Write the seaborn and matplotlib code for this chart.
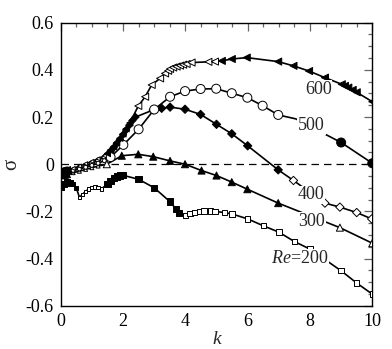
import numpy as np
import pandas as pd
import matplotlib
matplotlib.use("Agg")
import matplotlib.pyplot as plt
from matplotlib.ticker import MultipleLocator, FixedFormatter, FixedLocator
import seaborn as sns

# ---------------- data ----------------
# fill flag: 'f' filled marker, 'o' open marker, 'n' no marker
k_200 = [0.0, 0.1, 0.2, 0.3, 0.4, 0.5,
         0.6, 0.7, 0.8, 0.9, 1.0, 1.1, 1.2, 1.3,
         1.5, 1.6, 1.7, 1.8, 1.9, 2.0, 2.5, 3.0, 3.5, 3.7, 3.8,
         4.0, 4.15, 4.3, 4.45, 4.6, 4.8, 4.95, 5.25, 5.5, 6.0, 6.5, 7.0, 7.5, 8.0, 9.0, 9.5, 10.0]
s_200 = [-0.095, -0.085, -0.078, -0.08, -0.085, -0.1,
         -0.14, -0.128, -0.115, -0.105, -0.098, -0.097, -0.1, -0.105,
         -0.085, -0.07, -0.06, -0.052, -0.048, -0.047, -0.064, -0.1, -0.158, -0.19, -0.207,
         -0.218, -0.21, -0.204, -0.2, -0.199, -0.199, -0.2, -0.205, -0.211, -0.232, -0.261, -0.288,
         -0.328, -0.36, -0.452, -0.504, -0.551]
f_200 = ['f'] * 6 + ['o'] * 8 + ['f'] * 11 + ['o'] * 17

k_300 = [0.0, 0.05, 0.1, 0.15, 0.2, 0.4, 0.6, 0.8, 1.0, 1.2, 1.48, 1.96, 2.49, 2.97, 3.51,
         3.99, 4.52, 5.0, 5.49, 5.99, 6.98, 8.96, 10.0]
s_300 = [-0.045, -0.047, -0.046, -0.044, -0.042, -0.036, -0.03, -0.022, -0.015, -0.008, 0.0,
         0.036, 0.042, 0.032, 0.014, 0.0, -0.027, -0.048, -0.076, -0.106, -0.165, -0.269, -0.335]
f_300 = ['f'] * 5 + ['o'] * 6 + ['f'] * 10 + ['o'] * 2

k_400 = [0.0, 0.05, 0.1, 0.15, 0.2, 0.4, 0.6, 0.8, 1.0, 1.2, 1.4,
         1.5, 1.6, 1.7, 1.8, 1.9, 2.0, 2.1, 2.2, 2.3, 2.4,
         2.97, 3.24, 3.51, 3.99, 4.49, 5.0, 5.49, 6.0, 6.98, 7.47, 8.48, 8.96, 9.5, 9.98]
s_400 = [-0.04, -0.042, -0.04, -0.037, -0.034, -0.027, -0.018, -0.008, 0.004, 0.016, 0.03,
         0.04, 0.055, 0.07, 0.088, 0.105, 0.125, 0.145, 0.165, 0.185, 0.2,
         0.23, 0.237, 0.242, 0.233, 0.211, 0.169, 0.129, 0.078, -0.024, -0.069, -0.165, -0.182,
         -0.205, -0.232]
f_400 = ['f'] * 5 + ['o'] * 6 + ['f'] * 19 + ['o'] * 5

k_500 = [0.0, 0.05, 0.1, 0.15, 0.2, 0.4, 0.6, 0.8, 1.0, 1.2, 1.4, 1.6,
         2.01, 2.5, 3.0, 3.51, 3.99, 4.49, 4.99, 5.49, 5.99, 6.48, 6.98, 7.55, 8.3, 9.0, 10.0]
s_500 = [-0.035, -0.038, -0.036, -0.034, -0.031, -0.026, -0.02, -0.013, -0.005, 0.004, 0.015,
         0.03, 0.082, 0.148, 0.232, 0.286, 0.31, 0.319, 0.32, 0.301, 0.282, 0.248, 0.209, 0.192,
         0.14, 0.092, 0.004]
f_500 = ['f'] * 5 + ['o'] * 8 + ['o'] * 10 + ['n', 'n', 'f', 'f']

k_600 = [0.0, 0.05, 0.1, 0.15, 0.2, 0.4, 0.6, 0.8, 1.0, 1.2, 1.4,
         1.5, 1.6, 1.7, 1.8, 1.9, 2.0, 2.1, 2.22,
         2.49, 2.71, 2.92, 3.19, 3.35, 3.45, 3.51, 3.61, 3.72, 3.83, 3.93, 4.04, 4.2, 4.74, 4.95,
         5.17, 5.49, 5.97, 6.98, 7.47, 7.97, 8.48, 9.02, 9.12, 9.23, 9.37, 9.5, 10.0]
s_600 = [-0.03, -0.033, -0.031, -0.028, -0.025, -0.018, -0.008, 0.002, 0.012, 0.023, 0.035,
         0.045, 0.06, 0.075, 0.092, 0.11, 0.128, 0.15, 0.175,
         0.247, 0.286, 0.336, 0.364, 0.385, 0.396, 0.404, 0.41, 0.414, 0.418, 0.422, 0.425, 0.431,
         0.434, 0.435, 0.438, 0.446, 0.452, 0.435, 0.417, 0.395, 0.367, 0.339, 0.332, 0.325,
         0.315, 0.305, 0.265]
f_600 = ['f'] * 5 + ['o'] * 6 + ['f'] * 8 + ['o'] * 15 + ['f'] * 13

curve_labels = ["Re=200", "300", "400", "500", "600"]
label_k = [7.68, 8.05, 8.03, 8.05, 8.27]
label_s = [-0.398, -0.243, -0.13, 0.163, 0.318]

x_ticks = [0, 2, 4, 6, 8, 10]
y_ticks = [-0.6, -0.4, -0.2, 0, 0.2, 0.4, 0.6]
y_ticklabels = ["-0.6", "-0.4", "-0.2", "0", "0.2", "0.4", "0.6"]

# ---------------- style ----------------
sns.set_theme(style="white")
plt.rcParams['font.family'] = ['Liberation Serif', 'DejaVu Serif']
plt.rcParams['mathtext.fontset'] = 'custom'
plt.rcParams['mathtext.rm'] = 'Liberation Serif'
plt.rcParams['mathtext.it'] = 'Liberation Serif:italic'
plt.rcParams['axes.unicode_minus'] = False

fig = plt.figure(figsize=(3.92, 3.49), dpi=100)
ax = fig.add_axes([60.7 / 392, 1 - 305.7 / 349, (372.3 - 60.7) / 392, (305.7 - 22.7) / 349])

markers = {"200": "s", "300": "^", "400": "D", "500": "o", "600": "<"}
big = {"200": 20, "300": 26, "400": 18, "500": 42, "600": 26}

curves = [("200", k_200, s_200, f_200), ("300", k_300, s_300, f_300),
          ("400", k_400, s_400, f_400), ("500", k_500, s_500, f_500),
          ("600", k_600, s_600, f_600)]

ax.axhline(0, color="black", lw=0.9, ls=(0, (6, 4)), zorder=1)

for name, kk, ss, ff in curves:
    df = pd.DataFrame({"k": kk, "s": ss, "f": ff})
    sns.lineplot(data=df, x="k", y="s", sort=False, estimator=None, color="black",
                 lw=1.2, ax=ax, zorder=2)
    for flag in ("f", "o"):
        sub = df[df["f"] == flag]
        if sub.empty:
            continue
        small = (sub["k"] > 0.3) & (sub["k"] < 1.45)
        dense = (sub["k"] >= 1.45) & (sub["k"] < 2.45) & (name in ("400", "600"))
        sizes = np.where(small, 8, np.where(dense, big[name] * 0.75, big[name]))
        if name == "200" and flag == "o":
            sizes = sizes * 0.75
        sns.scatterplot(data=sub, x="k", y="s", marker=markers[name], s=sizes,
                        facecolor="black" if flag == "f" else "white",
                        edgecolor="black", linewidth=0.7, ax=ax, zorder=3, legend=False)

for lab, lk, ls_ in zip(curve_labels, label_k, label_s):
    txt = lab.replace("Re", "$Re$")
    ax.text(lk, ls_, txt, fontsize=13, ha="center", va="center", zorder=5,
            bbox=dict(facecolor="white", edgecolor="none", pad=0.5))

ax.set_xlim(0, 10)
ax.set_ylim(-0.6, 0.6)
ax.set_xticks(x_ticks)
ax.set_xticklabels([str(t) for t in x_ticks])
ax.yaxis.set_major_locator(FixedLocator(y_ticks))
ax.yaxis.set_major_formatter(FixedFormatter(y_ticklabels))
ax.xaxis.set_minor_locator(MultipleLocator(0.5))
ax.yaxis.set_minor_locator(MultipleLocator(0.05))
ax.tick_params(which="both", direction="in", top=True, right=True, color="#666666",
               labelsize=13, labelcolor="black")
ax.tick_params(which="major", length=6, width=0.9, pad=5)
ax.tick_params(which="minor", length=3, width=0.9)
for sp in ax.spines.values():
    sp.set_color("black")
    sp.set_linewidth(1.0)

ax.set_xlabel("k", fontstyle="italic", fontsize=14, labelpad=1)
ax.set_ylabel("σ", fontsize=15)
ax.yaxis.set_label_coords(-0.125, 0.5)

fig.savefig("out.png", dpi=100)
